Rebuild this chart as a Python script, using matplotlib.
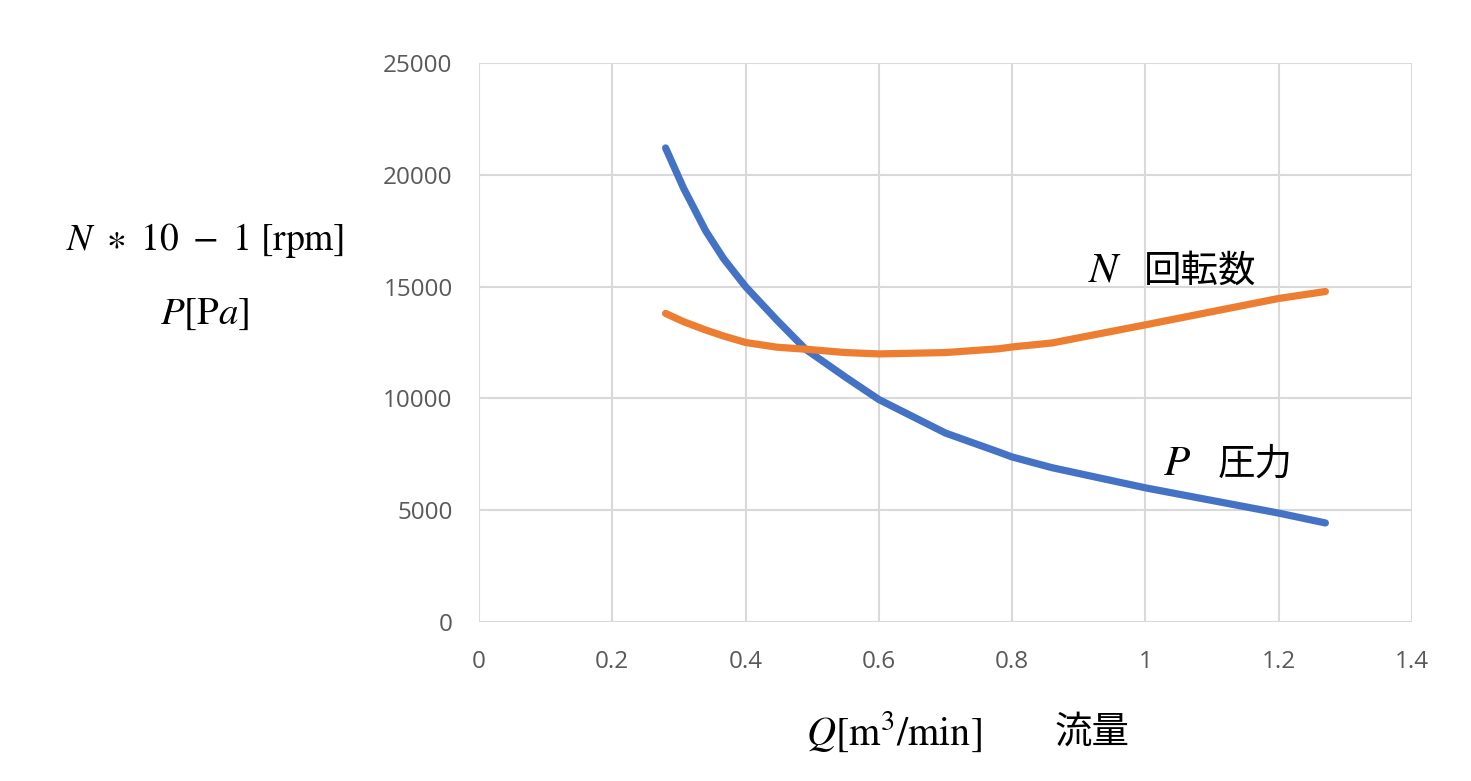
import matplotlib
matplotlib.use("Agg")
import matplotlib.pyplot as plt

plt.rcParams['mathtext.fontset'] = 'stix'

# Data
flow_q = [0.28, 0.307, 0.34, 0.367, 0.40, 0.447, 0.49, 0.55, 0.60, 0.70, 0.78, 0.80, 0.86, 1.00, 1.20, 1.27]
pressure_p = [21200, 19400, 17500, 16250, 15000, 13500, 12200, 10950, 9950, 8450, 7600, 7380, 6900, 6000, 4870, 4430]
speed_n = [13800, 13430, 13060, 12790, 12500, 12290, 12200, 12050, 11990, 12050, 12220, 12300, 12480, 13290, 14470, 14780]

x_ticks = [0, 0.2, 0.4, 0.6, 0.8, 1, 1.2, 1.4]
x_tick_labels = ["0", "0.2", "0.4", "0.6", "0.8", "1", "1.2", "1.4"]
y_ticks = [0, 5000, 10000, 15000, 20000, 25000]
y_tick_labels = ["0", "5000", "10000", "15000", "20000", "25000"]

BLUE = "#4472C4"
ORANGE = "#ED7D31"
GRID = "#D9D9D9"
TICK = "#595959"
CJK = ["Noto Sans CJK JP", "DejaVu Sans"]

fig = plt.figure(figsize=(14.71, 7.81), dpi=100)
ax = fig.add_axes([479/1471, 1-622/781, (1412-479)/1471, (622-63)/781])

ax.plot(flow_q, pressure_p, color=BLUE, lw=5.2, solid_capstyle='round', solid_joinstyle='round', zorder=3)
ax.plot(flow_q, speed_n, color=ORANGE, lw=5.2, solid_capstyle='round', solid_joinstyle='round', zorder=3)

ax.set_xlim(0, 1.4)
ax.set_ylim(0, 25000)
ax.set_xticks(x_ticks)
ax.set_xticklabels(x_tick_labels)
ax.set_yticks(y_ticks)
ax.set_yticklabels(y_tick_labels)
for lab in ax.get_xticklabels() + ax.get_yticklabels():
    lab.set_fontfamily("Open Sans")
    lab.set_fontsize(17.5)
    lab.set_color(TICK)
ax.tick_params(axis='both', length=0)
ax.tick_params(axis='y', pad=19)
ax.tick_params(axis='x', pad=20)
ax.grid(True, color=GRID, lw=1.5, zorder=0)
for s in ax.spines.values():
    s.set_visible(False)
ax.set_axisbelow(True)

# Y axis label (two lines)
fig.text(205/1471, 1-240/781, r'$N\ \ast\ 10\ -\ 1\ [\mathrm{rpm}]$', fontsize=27,
         ha='center', va='center')
fig.text(205/1471, 1-313/781, r'$P[\mathrm{P}a]$', fontsize=28,
         ha='center', va='center')

# X axis label
fig.text(894/1471, 1-732/781, r'$Q[\mathrm{m}^3/\mathrm{min}]$', fontsize=29,
         ha='center', va='center')
fig.text(1092/1471, 1-732/781, '流量', fontsize=27, family=CJK,
         ha='center', va='center')

# Series annotations
fig.text(1105/1471, 1-270/781, r'$N$', fontsize=31, ha='center', va='center')
fig.text(1200/1471, 1-271/781, '回転数', fontsize=27, family=CJK, ha='center', va='center')
fig.text(1177/1471, 1-463/781, r'$P$', fontsize=31, ha='center', va='center')
fig.text(1255/1471, 1-464/781, '圧力', fontsize=27, family=CJK, ha='center', va='center')

fig.savefig("out.png", dpi=100)
